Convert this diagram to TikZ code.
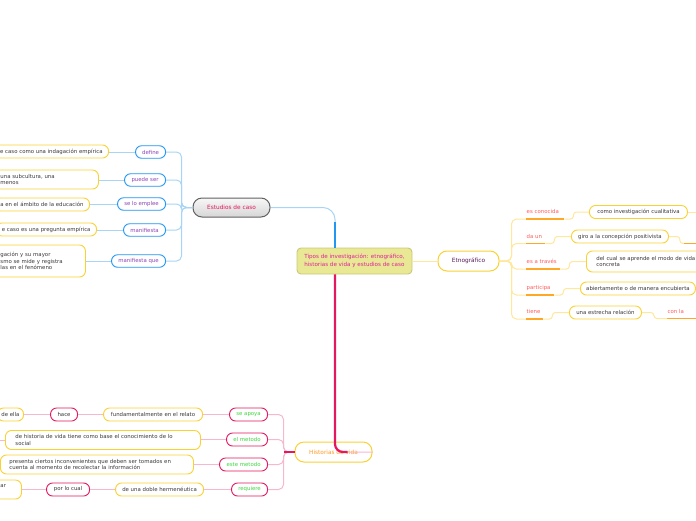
\documentclass[tikz,border=0pt]{standalone}
\usepackage{fontspec}
\setmainfont{DejaVu Sans}
\definecolor{leafY}{HTML}{F9D232}
\definecolor{txt}{HTML}{3A3A3A}
\definecolor{blueB}{HTML}{2196F3}
\definecolor{lineB}{HTML}{A8D5F5}
\definecolor{labP}{HTML}{8E44B8}
\definecolor{crim}{HTML}{E3185F}
\definecolor{lineP}{HTML}{F7B7CF}
\definecolor{labG}{HTML}{3FD83F}
\definecolor{lineY}{HTML}{FFE79C}
\definecolor{orU}{HTML}{FFA726}
\definecolor{labR}{HTML}{FF5A5A}
\definecolor{cenF}{HTML}{E8E895}
\definecolor{cenB}{HTML}{C9C877}
\definecolor{cenT}{HTML}{E0209C}
\definecolor{estT}{HTML}{E2185B}
\definecolor{etT}{HTML}{5A1A5A}
\definecolor{hiT}{HTML}{FF9A1F}
\begin{document}
\begin{tikzpicture}[x=1pt,y=-1pt,
  every node/.style={font=\fontsize{5.4}{6.5}\selectfont, inner sep=0pt},
  leaf/.style={draw=leafY, line width=0.9pt, fill=white, rounded corners=6pt, text=txt, minimum height=13pt, inner xsep=6pt, inner ysep=2pt, align=left},
  blab/.style={draw=blueB, line width=0.9pt, fill=white, rounded corners=6pt, text=labP, minimum height=12.5pt, inner xsep=3pt, anchor=east},
  plab/.style={draw=crim, line width=0.9pt, fill=white, rounded corners=6pt, text=labG, minimum height=13pt, inner xsep=3pt, anchor=east},
  clf/.style={draw=crim, line width=0.9pt, fill=white, rounded corners=6pt, text=txt, minimum height=13pt, inner xsep=3pt, anchor=east},
  olab/.style={text=labR, inner xsep=0.5pt, inner ysep=4pt, text height=4pt, text depth=1.2pt, anchor=south west, align=left},
  mainbox/.style={draw=leafY, line width=1pt, fill=white, rounded corners=9pt, minimum height=20pt, font=\fontsize{5.8}{7}\selectfont},
  uline/.style={draw=orU, line width=1.6pt},
  lb/.style={draw=lineB, line width=1pt},
  lp/.style={draw=lineP, line width=1pt},
  ly/.style={draw=lineY, line width=1pt}]
\useasboundingbox (0,0) rectangle (696,520);
\clip (0,0) rectangle (696,520);

% central and main topics
\node[draw=cenB, fill=cenF, rounded corners=4pt, line width=0.9pt, minimum width=115pt, minimum height=26pt, inner xsep=2pt, align=left, text=cenT, font=\fontsize{5.6}{7.5}\selectfont] (c) at (354.5,261) {Tipos de investigación: etnográfico,\\historias de vida y estudios de caso};
\node[draw=black!62, line width=1pt, top color=white!97!black, bottom color=black!16, rounded corners=9pt, minimum width=77pt, minimum height=19pt, text=estT, font=\fontsize{5.8}{7}\selectfont] (est) at (231.5,207.5) {Estudios de caso};
\node[mainbox, text=etT, minimum width=61pt] (etno) at (468.5,261) {Etnográfico};
\node[mainbox, text=hiT, minimum width=77pt] (hist) at (333.5,452) {Historias de vida};

% Estudios de caso branch
\node[blab, minimum width=30pt] (e1) at (166,152) {define};
\node[blab, minimum width=41pt] (e2) at (166,180) {puede ser};
\node[blab, minimum width=48pt] (e3) at (166,204) {se lo emplee};
\node[blab, minimum width=42pt] (e4) at (166,230) {manifiesta};
\node[blab, minimum width=54pt] (e5) at (166,261) {manifiesta que};

\node[leaf, anchor=east] (l1) at (109,151.5) {e caso como una indagación empírica};
\node[leaf, anchor=west, inner xsep=8pt, text width=90pt, minimum height=19pt] (l2) at (-8,179.5) {una subcultura, una\\menos};
\node[leaf, anchor=east] (l3) at (90,204.5) {a en el ámbito de la educación};
\node[leaf, anchor=east] (l4) at (97,229.5) {e caso es una pregunta empírica};
\node[leaf, anchor=west, inner xsep=8pt, text width=77pt, minimum height=32pt] (l5) at (-8,261) {gación y su mayor\\smo se mide y registra\\las en el fenómeno};

\foreach \i in {1,...,5}{
  \draw[lb, rounded corners=5pt] (est.west) -- ++(-11,0) |- (e\i.east);
  \draw[lb] (e\i.west) -- (e\i.west -| l\i.east);
}

% Etnografico branch
\node[olab, text width=37pt] (o1) at (526,219) {es conocida};
\node[olab, text width=18pt] (o2) at (526,243.5) {da un};
\node[olab, text width=33pt] (o3) at (526,269) {es a través};
\node[olab, text width=27pt] (o4) at (526,295) {participa};
\node[olab, text width=16pt] (o5) at (526,319) {tiene};
\node[olab, text width=40pt] (o6) at (667,318.5) {con la};

\node[leaf, anchor=west, minimum width=98pt] (r1) at (589,212) {como investigación cualitativa};
\node[leaf, anchor=west, minimum width=97pt] (r2) at (571,236.5) {giro a la concepción positivista};
\node[leaf, anchor=west, inner xsep=10pt, text width=115pt, minimum height=21pt] (r3) at (586,261.5) {del cual se aprende el modo de vida\\concreta};
\node[leaf, anchor=west, minimum width=115pt, inner xsep=4pt] (r4) at (580,288.5) {abiertamente o de manera encubierta};
\node[leaf, anchor=west, minimum width=72pt] (r5) at (569,312.5) {una estrecha relación};

\coordinate (cutR1) at (700,212);
\coordinate (cutR2) at (684,243.5);

\draw[ly] (c.east) -- (etno.west);
\foreach \i in {1,...,5}{
  \draw[ly, rounded corners=5pt] (etno.east) -- ++(12,0) |- (o\i.south west);
  \draw[ly, rounded corners=3pt] (o\i.south east) -- ++(9,0) |- (r\i.west);
}
\foreach \i in {1,...,6}{
  \draw[uline] (o\i.south west) -- (o\i.south east);
}
\draw[ly] (r1.east) -- (cutR1);
\draw[ly, rounded corners=3pt] (r2.east) -- ++(11,0) |- (cutR2);
\draw[uline] (cutR2) -- (700,243.5);
\draw[ly, rounded corners=3pt] (r5.east) -- ++(12,0) |- (o6.south west);

% Historias de vida branch
\node[plab, minimum width=38pt] (h1) at (268,414.5) {se apoya};
\node[plab, minimum width=41pt] (h2) at (268,439.5) {el metodo};
\node[plab, minimum width=48pt] (h3) at (268,464.5) {este metodo};
\node[plab, minimum width=36pt] (h4) at (268,489.5) {requiere};

\node[leaf, anchor=east, minimum width=99pt] (f1) at (203,414.5) {fundamentalmente en el relato};
\node[clf, minimum width=27pt] (f2) at (78,414.5) {hace};
\node[leaf, anchor=east, inner xsep=4pt] (f3) at (24,414.5) {de ella};
\node[leaf, anchor=west, inner xsep=10pt, text width=175pt, minimum height=19pt] (g1) at (5,440) {de historia de vida tiene como base el conocimiento de lo\\social};
\node[leaf, anchor=west, inner xsep=9pt, text width=175pt, minimum height=19pt] (k1) at (0,464.5) {presenta ciertos inconvenientes que deben ser tomados en\\cuenta al momento de recolectar la información};
\node[leaf, anchor=east, minimum width=88pt] (m1) at (204,489.5) {de una doble hermenéutica};
\node[clf, minimum width=43pt] (m2) at (90,489.5) {por lo cual};
\node[leaf, anchor=west, inner xsep=10pt, text width=11pt, minimum height=19pt] (m3) at (-10,489.5) {ar\\~};
\coordinate (cutL) at (-5,440);

\foreach \i in {1,...,4}{
  \draw[lp, rounded corners=5pt] (hist.west) -- ++(-11,0) |- (h\i.east);
}
\draw[draw=crim, line width=1.2pt] (hist.west) -- ++(-11,0);
\draw[lp] (h1.west) -- (f1.east);
\draw[lp] (f1.west) -- (f2.east);
\draw[lp] (f2.west) -- (f3.east);
\draw[lp] (h2.west) -- (h2.west -| g1.east);
\draw[lp] (g1.west) -- (cutL);
\draw[lp] (h3.west) -- (k1.east);
\draw[lp] (h4.west) -- (m1.east);
\draw[lp] (m1.west) -- (m2.east);
\draw[lp] (m2.west) -- (m3.east);

% trunk connectors from the central topic
\coordinate (cN) at ([xshift=-19.5pt]c.north);
\coordinate (cS) at ([xshift=-19.5pt]c.south);
\draw[lb, rounded corners=12pt] (cN) |- (est.east);
\draw[draw=blueB, line width=2.2pt] (cN) -- ++(0,-26);
\draw[lp, rounded corners=8pt] (cS) |- (hist.east);
\draw[draw=crim, line width=2.2pt, rounded corners=8pt] (cS) |- ([xshift=-25pt]hist.east);
\end{tikzpicture}
\end{document}
